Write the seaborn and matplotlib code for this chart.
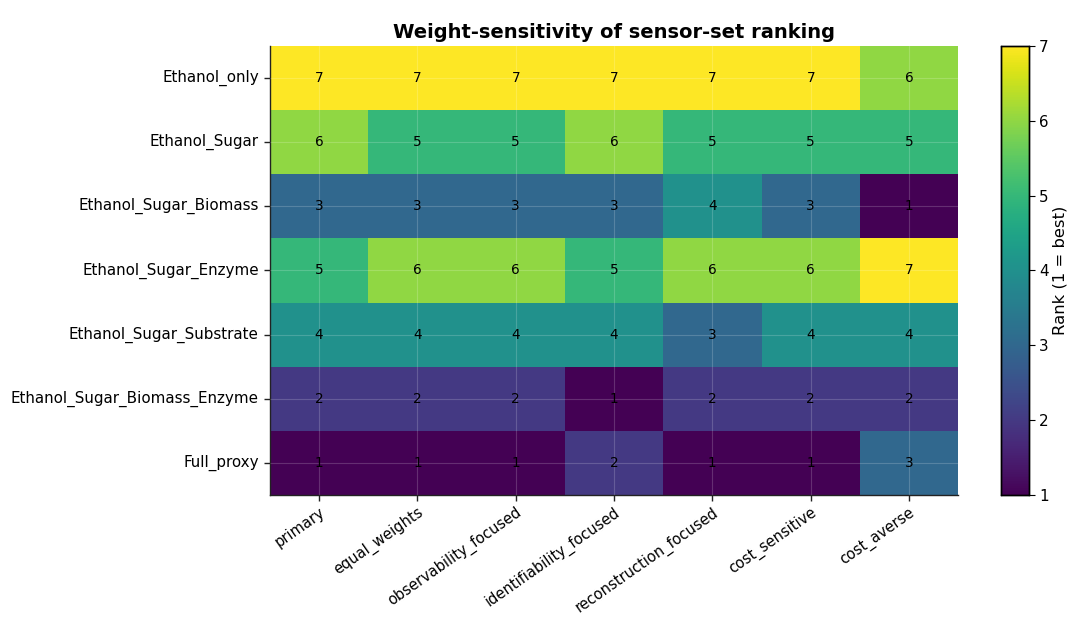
import numpy as np
import pandas as pd
import matplotlib
matplotlib.use("Agg")
import matplotlib.pyplot as plt
import seaborn as sns

sensor_sets = [
    "Ethanol_only",
    "Ethanol_Sugar",
    "Ethanol_Sugar_Biomass",
    "Ethanol_Sugar_Enzyme",
    "Ethanol_Sugar_Substrate",
    "Ethanol_Sugar_Biomass_Enzyme",
    "Full_proxy",
]
weight_schemes = [
    "primary",
    "equal_weights",
    "observability_focused",
    "identifiability_focused",
    "reconstruction_focused",
    "cost_sensitive",
    "cost_averse",
]
rank_ethanol_only = [7, 7, 7, 7, 7, 7, 6]
rank_ethanol_sugar = [6, 5, 5, 6, 5, 5, 5]
rank_ethanol_sugar_biomass = [3, 3, 3, 3, 4, 3, 1]
rank_ethanol_sugar_enzyme = [5, 6, 6, 5, 6, 6, 7]
rank_ethanol_sugar_substrate = [4, 4, 4, 4, 3, 4, 4]
rank_ethanol_sugar_biomass_enzyme = [2, 2, 2, 1, 2, 2, 2]
rank_full_proxy = [1, 1, 1, 2, 1, 1, 3]

ranks = pd.DataFrame(
    [
        rank_ethanol_only,
        rank_ethanol_sugar,
        rank_ethanol_sugar_biomass,
        rank_ethanol_sugar_enzyme,
        rank_ethanol_sugar_substrate,
        rank_ethanol_sugar_biomass_enzyme,
        rank_full_proxy,
    ],
    index=sensor_sets,
    columns=weight_schemes,
)

fig = plt.figure(figsize=(10.67, 6.21), dpi=100)
ax = fig.add_axes([0.253, 0.203, 0.645, 0.723])
cax = fig.add_axes([0.938, 0.203, 0.026, 0.723])

sns.heatmap(
    ranks,
    ax=ax,
    cbar_ax=cax,
    cmap="viridis",
    vmin=1,
    vmax=7,
    annot=True,
    fmt="d",
    annot_kws={"color": "black", "fontsize": 9.8},
    cbar_kws={"ticks": [1, 2, 3, 4, 5, 6, 7]},
)

ax.set_title("Weight-sensitivity of sensor-set ranking", fontsize=14,
             fontweight="bold", pad=6)
ax.set_xlabel("")
ax.set_ylabel("")
ax.tick_params(axis="both", which="major", length=4.5, width=1, labelsize=10.9,
               colors="#222222", labelcolor="black")
ax.tick_params(axis="x", labelsize=10.5, pad=2.5)
ax.set_xticklabels(weight_schemes, rotation=35, ha="right", rotation_mode="anchor")
ax.set_yticklabels(sensor_sets, rotation=0)

ax.grid(True, color="white", alpha=0.18, linewidth=0.8)
ax.set_axisbelow(False)
for side in ["left", "bottom"]:
    ax.spines[side].set_visible(True)
    ax.spines[side].set_color("#222222")
    ax.spines[side].set_linewidth(1.0)
for side in ["top", "right"]:
    ax.spines[side].set_visible(False)

cax.tick_params(labelsize=10.9, length=4.5, pad=3)
cax.set_ylabel("Rank (1 = best)", fontsize=11.8, labelpad=3)
for sp in cax.spines.values():
    sp.set_visible(True)
    sp.set_color("black")
    sp.set_linewidth(1.0)

fig.savefig("out.png", dpi=100)
